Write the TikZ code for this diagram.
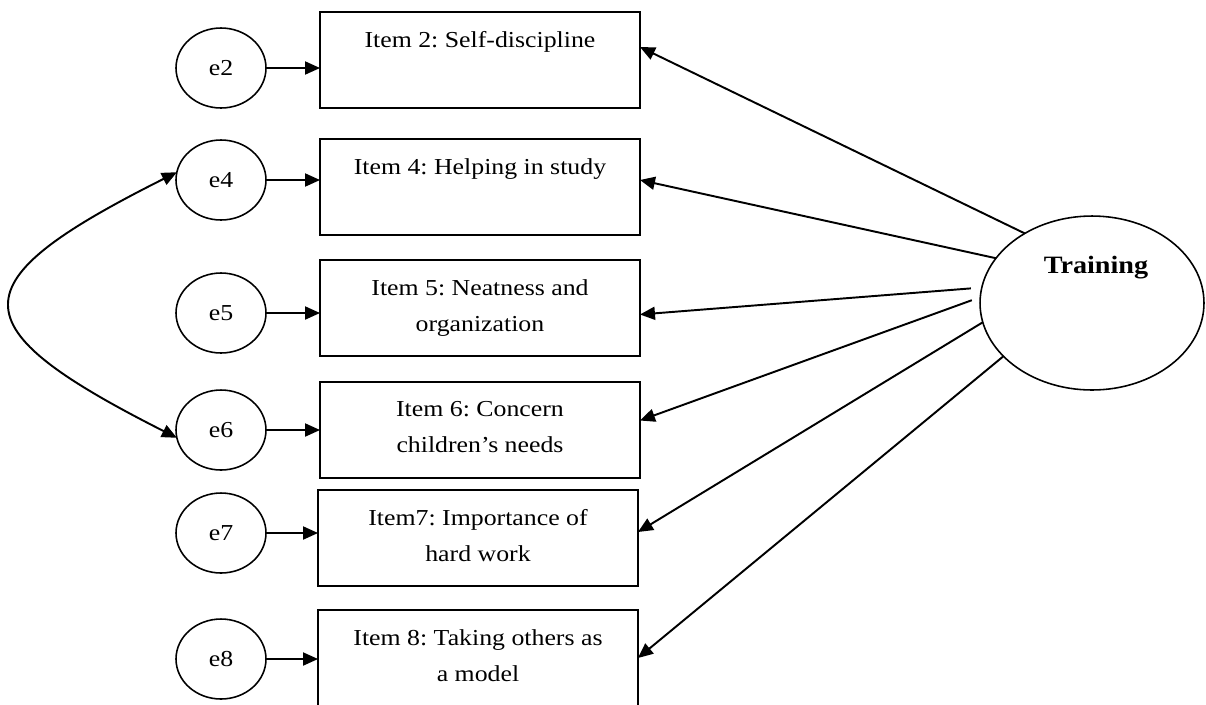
\documentclass[tikz,border=0pt]{standalone}
\usepackage{fontspec}
\setmainfont{Liberation Serif}[FakeStretch=1.13]
\usetikzlibrary{arrows.meta,shapes.geometric}
\frenchspacing

\tikzset{
  err/.style={draw, ellipse, line width=0.9pt, minimum width=1.8cm, minimum height=1.6cm,
    inner sep=0pt, outer sep=0pt, font=\fontsize{13}{16}\selectfont},
  itembox/.style={draw, rectangle, line width=1.1pt, minimum width=6.4cm, minimum height=1.92cm,
    inner sep=0pt, outer sep=0pt},
  itemtext/.style={align=center, inner sep=0pt, anchor=north, font=\fontsize{13}{20.4}\selectfont},
  load/.style={line width=1.1pt, -{Triangle[length=0.3cm,width=0.26cm]}},
  cov/.style={line width=1.1pt, {Triangle[length=0.3cm,width=0.26cm]}-{Triangle[length=0.3cm,width=0.26cm]}},
}

\begin{document}
\begin{tikzpicture}[x=0.02cm, y=-0.02cm]
\useasboundingbox (0,0) rectangle (1206,704);

% error terms
\foreach \n/\y in {2/68,4/180,5/313,6/430,7/533,8/659}
  \node[err] (e\n) at (221,\y) {e\n};

% items
\foreach \n/\x/\y in {2/480/60,4/480/187,5/480/308,6/480/430,7/478/538,8/478/658}
  \node[itembox] (b\n) at (\x,\y) {};
\node[itemtext] (t2) at ([yshift=-0.38cm]b2.north) {Item 2: Self-discipline};
\node[itemtext] (t4) at ([yshift=-0.38cm]b4.north) {Item 4: Helping in study};
\node[itemtext] (t5) at ([yshift=-0.38cm]b5.north) {Item 5: Neatness and\\organization};
\node[itemtext] (t6) at ([yshift=-0.38cm]b6.north) {Item 6: Concern\\children’s needs};
\node[itemtext] (t7) at ([yshift=-0.38cm]b7.north) {Item7: Importance of\\hard work};
\node[itemtext] (t8) at ([yshift=-0.38cm]b8.north) {Item 8: Taking others as\\a model};

% error -> item
\foreach \n in {2,4,5,6,7,8}
  \draw[load] (e\n) -- (e\n -| b\n.west);

% covariance e4 <-> e6
\draw[cov] (e4.170) .. controls (-44,283) and (-44,326) .. (e6.190);

% latent factor
\node[draw, ellipse, line width=0.9pt, minimum width=4.48cm, minimum height=3.48cm,
  inner sep=0pt, outer sep=0pt] (tr) at (1092,303) {};
\node[font=\bfseries\fontsize{14.2}{17}\selectfont] (trlab) at (1096,268) {Training};

% loadings
\draw[load] (tr.134) -- ([yshift=0.26cm]b2.east);
\draw[load] (tr.155) -- ([yshift=0.14cm]b4.east);
\draw[load, shorten <=0.22cm] (tr.172) -- ([yshift=-0.13cm]b5.east);
\draw[load, shorten <=0.18cm] (tr.177) -- ([yshift=0.19cm]b6.east);
\draw[load] (tr.190) -- ([yshift=0.12cm]b7.east);
\draw[load] (tr.211) -- (b8.east);

\end{tikzpicture}
\end{document}
